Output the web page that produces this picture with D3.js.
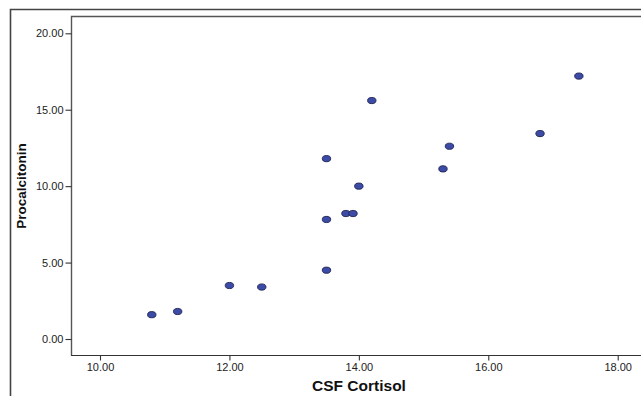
<!DOCTYPE html>
<html><head><meta charset="utf-8">
<script src="https://cdn.jsdelivr.net/npm/d3@7"></script>
<style>body{margin:0;background:#fff}svg{display:block}</style>
</head><body>
<svg id="c" width="641" height="396"></svg>
<script>
const cortisol = [14.2, 13.5, 14.0, 13.8, 13.91, 13.5, 13.5, 12.0, 12.5, 10.8, 11.2, 17.4, 16.8, 15.4, 15.3];
const procalcitonin = [15.6, 11.8, 10.0, 8.21, 8.21, 7.82, 4.5, 3.5, 3.4, 1.59, 1.8, 17.2, 13.44, 12.61, 11.13];
const xTicks = [10, 12, 14, 16, 18];
const yTicks = [0, 5, 10, 15, 20];
const xTitle = "CSF Cortisol";
const yTitle = "Procalcitonin";

const svg = d3.select("#c");
const L = 71, T = 16, B = 355.5, R = 645;
const x = d3.scaleLinear().domain([10, 18]).range([100, 617.7]);
const y = d3.scaleLinear().domain([0, 20]).range([339, 33.3]);

// outer frame
svg.append("path").attr("d", `M10.5,400V9.5H645`).attr("fill","none").attr("stroke","#444").attr("stroke-width",1.6);
// plot box
svg.append("path").attr("d", `M${L+0.5},${B}V${T+0.5}H${R}`).attr("fill","none").attr("stroke","#555").attr("stroke-width",1.4);
svg.append("line").attr("x1",L).attr("x2",R).attr("y1",B).attr("y2",B).attr("stroke","#333").attr("stroke-width",1.2);

const ax = svg.append("g").attr("transform",`translate(0,${B})`)
  .call(d3.axisBottom(x).tickValues(xTicks).tickFormat(d3.format(".2f")).tickSize(5).tickPadding(3));
ax.select(".domain").remove();
const ay = svg.append("g").attr("transform",`translate(${L+0.5},0)`)
  .call(d3.axisLeft(y).tickValues(yTicks).tickFormat(d3.format(".2f")).tickSize(6).tickPadding(2));
ay.select(".domain").remove();
svg.selectAll(".tick line").attr("stroke","#333").attr("stroke-width",1.1);
svg.selectAll(".tick text").attr("fill","#222").style("font-family","Arial, 'Liberation Sans', sans-serif").style("font-size","11px");

svg.append("text").attr("x",359).attr("y",391).attr("text-anchor","middle")
  .style("font-family","Arial, 'Liberation Sans', sans-serif").style("font-size","15.5px").style("font-weight","bold").attr("fill","#111").text(xTitle);
svg.append("text").attr("transform","translate(26,186) rotate(-90)").attr("text-anchor","middle")
  .style("font-family","Arial, 'Liberation Sans', sans-serif").style("font-size","13.5px").style("font-weight","bold").attr("fill","#111").text(yTitle);

svg.append("g").selectAll("ellipse").data(cortisol.map((c,i)=>[c,procalcitonin[i]])).join("ellipse")
  .attr("cx",d=>x(d[0])).attr("cy",d=>y(d[1])).attr("rx",4.2).attr("ry",3.1)
  .attr("fill","#3c4ba6").attr("stroke","#1e2250").attr("stroke-width",0.9);
</script>
</body></html>
